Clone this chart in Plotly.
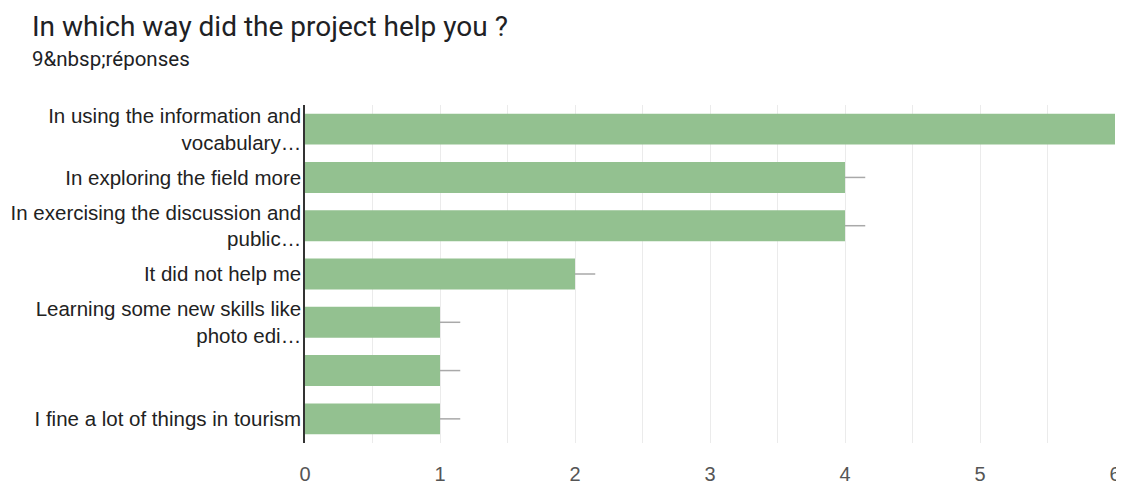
import plotly.graph_objects as go

categories = [
    "In using the information and<br>vocabulary…",
    "In exploring the field more",
    "In exercising the discussion and<br>public…",
    "It did not help me",
    "Learning some new skills like<br>photo edi…",
    " ",
    "I fine a lot of things in tourism",
]
counts = [6, 4, 4, 2, 1, 1, 1]
stub = [0.15] * len(counts)
x_ticks = [0, 1, 2, 3, 4, 5, 6]

L, T, PW, PH = 297, 97, 810, 338
W, H = 1114, 479

fig = go.Figure()
fig.add_trace(go.Bar(
    x=counts, y=categories, orientation="h",
    marker=dict(color="#93c190", line=dict(width=0)),
    width=0.64,
    error_x=dict(type="data", symmetric=False, array=stub, arrayminus=[0] * len(counts),
                 color="#a9a9a9", thickness=1.5, width=0),
    hoverinfo="skip",
))

fig.update_layout(
    width=W, height=H,
    margin=dict(l=L, r=W - L - PW, t=T, b=H - T - PH),
    paper_bgcolor="white", plot_bgcolor="white",
    showlegend=False,
    font=dict(family="Liberation Sans, Arial, sans-serif", color="#222222", size=20.5),
    annotations=[
        dict(text="In which way did the project help you ?", xref="paper", yref="paper",
             x=(22 - L) / PW, y=1 + (T - 18) / PH, xanchor="left", yanchor="middle", showarrow=False,
             font=dict(family="Roboto, Arial, sans-serif", size=28, color="#202124")),
        dict(text="9&amp;nbsp;réponses", xref="paper", yref="paper",
             x=(22 - L) / PW, y=1 + (T - 51) / PH, xanchor="left", yanchor="middle", showarrow=False,
             font=dict(family="Roboto, Arial, sans-serif", size=20.5, color="#202124")),
    ],
)
fig.update_xaxes(
    range=[0, 6], tickvals=x_ticks, ticktext=[str(v) for v in x_ticks],
    showgrid=True, gridcolor="#ebebeb", gridwidth=1,
    minor=dict(dtick=0.5, showgrid=True, gridcolor="#ebebeb", gridwidth=1),
    zeroline=False, showline=False,
    ticks="", ticklabelstandoff=17, automargin=False,
    tickfont=dict(size=20, color="#555555"),
    fixedrange=True,
)
fig.update_yaxes(
    categoryorder="array", categoryarray=categories, autorange="reversed",
    showline=True, linecolor="#333333", linewidth=1.5,
    showgrid=False, zeroline=False, ticks="", ticklabelstandoff=-2, automargin=False,
    tickfont=dict(size=20.5, color="#222222"),
    fixedrange=True,
)
fig.write_html("out.html")
